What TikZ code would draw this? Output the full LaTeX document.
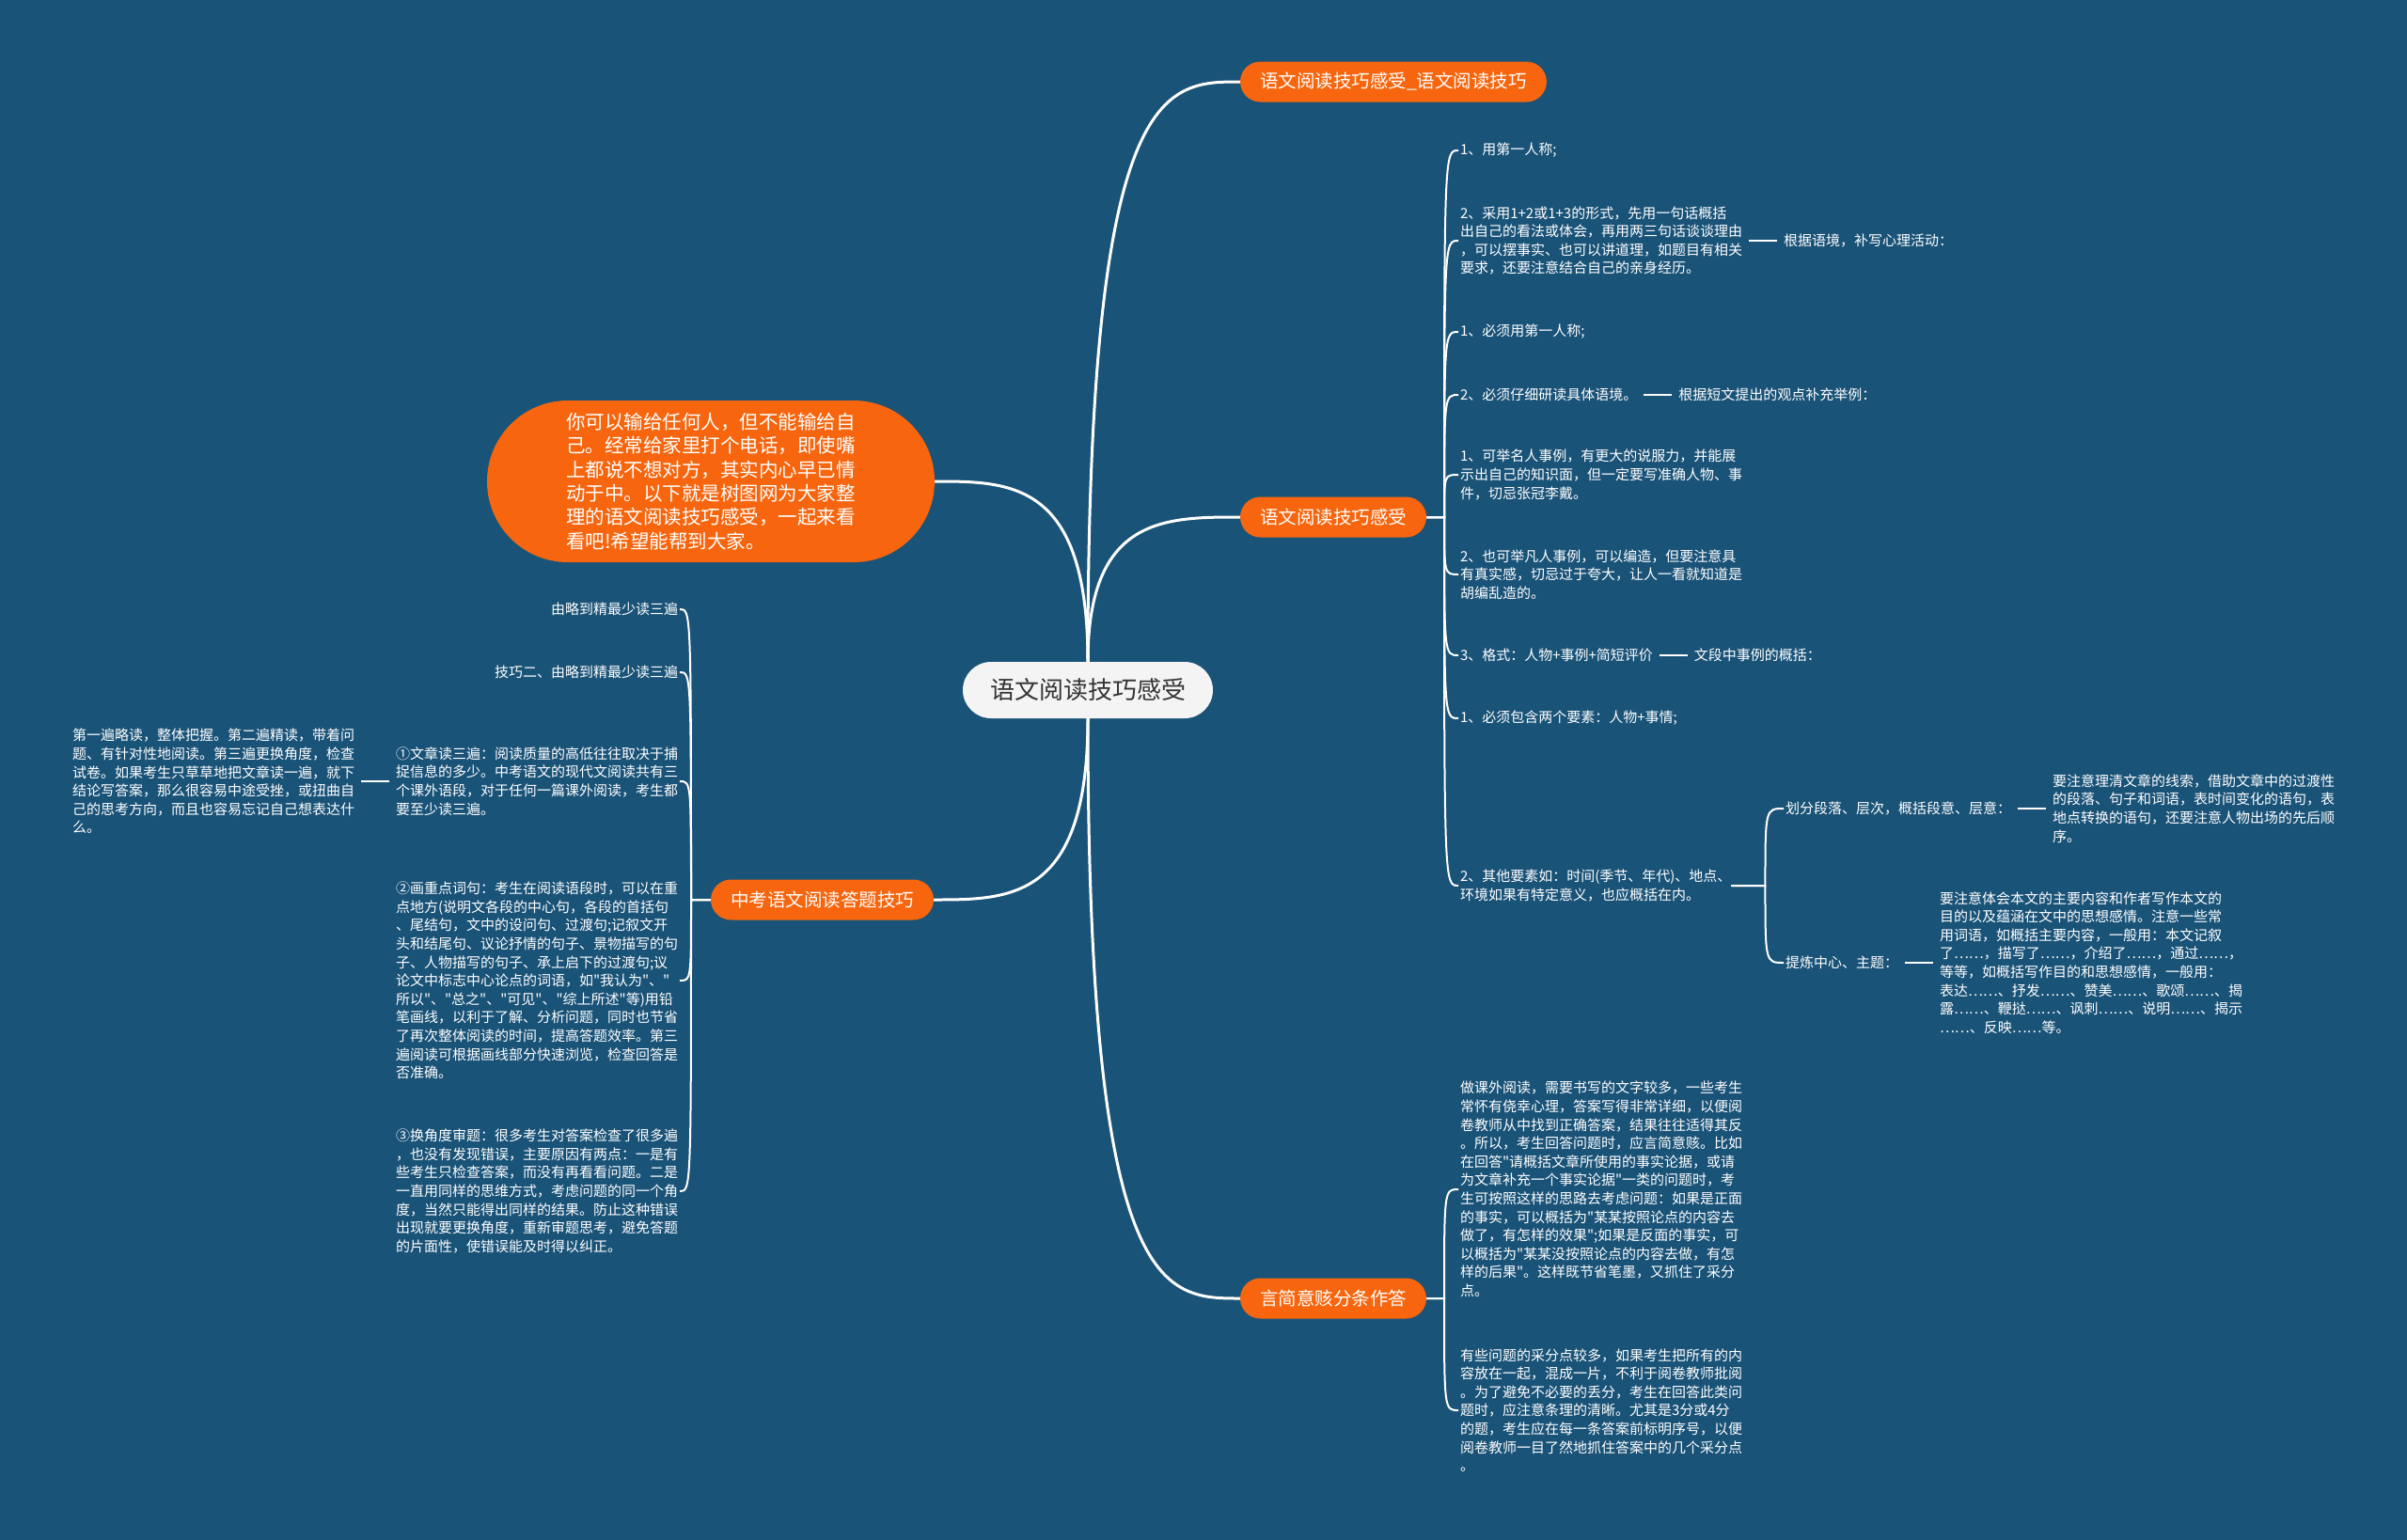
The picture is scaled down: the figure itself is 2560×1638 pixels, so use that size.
\documentclass[tikz,border=0pt]{standalone}
\usepackage{fontspec}
\setmainfont{Noto Sans CJK SC}
\newfontfamily\cjkfont{Noto Sans CJK SC}
\usetikzlibrary{calc}
\definecolor{bgblue}{RGB}{26,83,120}
\definecolor{orng}{RGB}{247,102,14}
\definecolor{ctrfill}{RGB}{244,244,244}
\definecolor{ctrtext}{RGB}{51,51,51}
\pgfdeclarelayer{edges}
\pgfsetlayers{edges,main}
\begin{document}
\begin{tikzpicture}[x=1pt,y=-1pt,
  every node/.style={inner sep=0pt, outer sep=0pt},
  topic/.style={fill=orng, text=white, rounded corners=21.5pt, minimum height=43pt, inner xsep=21pt, font=\cjkfont\fontsize{19.5}{24}\selectfont},
  centre/.style={fill=ctrfill, text=ctrtext, rounded corners=30pt, minimum height=60pt, minimum width=266pt, font=\cjkfont\fontsize{26}{30}\selectfont},
  intro/.style={fill=orng, text=white, rounded corners=86pt, minimum height=172pt, minimum width=476pt, align=left, font=\cjkfont\fontsize{20.5}{25.4}\selectfont},
  txt/.style={text=white, align=left, inner sep=2pt, font=\cjkfont\fontsize{15}{19.6}\selectfont},
  mainline/.style={draw=white, line width=3pt},
  subline/.style={draw=white, line width=2pt},
  linkline/.style={draw=white, line width=2pt, shorten >=5pt, shorten <=5pt},
]
\begin{pgfonlayer}{edges}
\fill[bgblue] (0,0) rectangle (2560,1638);
\end{pgfonlayer}
\useasboundingbox (0,0) rectangle (2560,1638);

% main nodes
\node[centre] (C) at (1157,734) {语文阅读技巧感受};
\node[topic, anchor=west, minimum width=325pt] (T) at (1319,87) {语文阅读技巧感受\_语文阅读技巧};
\node[topic, anchor=west] (R) at (1319,550) {语文阅读技巧感受};
\node[topic, anchor=west] (Y) at (1319,1381) {言简意赅分条作答};
\node[topic, anchor=east] (Z) at (993,957) {中考语文阅读答题技巧};
\node[intro] (I) at (756,512) {你可以输给任何人，但不能输给自\\己。经常给家里打个电话，即使嘴\\上都说不想对方，其实内心早已情\\动于中。以下就是树图网为大家整\\理的语文阅读技巧感受，一起来看\\看吧!希望能帮到大家。};

% right children of R
\node[txt, anchor=west] (r1) at (1551,160) {1、用第一人称;};
\node[txt, anchor=west] (r2) at (1551,256) {2、采用1+2或1+3的形式，先用一句话概括\\出自己的看法或体会，再用两三句话谈谈理由\\，可以摆事实、也可以讲道理，如题目有相关\\要求，还要注意结合自己的亲身经历。};
\node[txt, anchor=west] (r2b) at ([xshift=40pt]r2.east) {根据语境，补写心理活动：};
\node[txt, anchor=west] (r3) at (1551,353) {1、必须用第一人称;};
\node[txt, anchor=west] (r4) at (1551,420) {2、必须仔细研读具体语境。};
\node[txt, anchor=west] (r4b) at ([xshift=40pt]r4.east) {根据短文提出的观点补充举例：};
\node[txt, anchor=west] (r5) at (1551,505) {1、可举名人事例，有更大的说服力，并能展\\示出自己的知识面，但一定要写准确人物、事\\件，切忌张冠李戴。};
\node[txt, anchor=west] (r6) at (1551,611) {2、也可举凡人事例，可以编造，但要注意具\\有真实感，切忌过于夸大，让人一看就知道是\\胡编乱造的。};
\node[txt, anchor=west] (r7) at (1551,697) {3、格式：人物+事例+简短评价};
\node[txt, anchor=west] (r7b) at ([xshift=40pt]r7.east) {文段中事例的概括：};
\node[txt, anchor=west] (r8) at (1551,764) {1、必须包含两个要素：人物+事情;};
\node[txt, anchor=west] (r9) at (1551,942) {2、其他要素如：时间(季节、年代)、地点、\\环境如果有特定意义，也应概括在内。};
\node[txt, anchor=west] (s1) at (1897,860) {划分段落、层次，概括段意、层意：};
\node[txt, anchor=west] (s1b) at ([xshift=40pt]s1.east) {要注意理清文章的线索，借助文章中的过渡性\\的段落、句子和词语，表时间变化的语句，表\\地点转换的语句，还要注意人物出场的先后顺\\序。};
\node[txt, anchor=west] (s2) at (1897,1024) {提炼中心、主题：};
\node[txt, anchor=west] (s2b) at ([xshift=40pt]s2.east) {要注意体会本文的主要内容和作者写作本文的\\目的以及蕴涵在文中的思想感情。注意一些常\\用词语，如概括主要内容，一般用：本文记叙\\了……，描写了……，介绍了……，通过……，\\等等，如概括写作目的和思想感情，一般用：\\表达……、抒发……、赞美……、歌颂……、揭\\露……、鞭挞……、讽刺……、说明……、揭示\\……、反映……等。};

% right children of Y
\node[txt, anchor=west] (b1) at (1551,1265) {做课外阅读，需要书写的文字较多，一些考生\\常怀有侥幸心理，答案写得非常详细，以便阅\\卷教师从中找到正确答案，结果往往适得其反\\。所以，考生回答问题时，应言简意赅。比如\\在回答"请概括文章所使用的事实论据，或请\\为文章补充一个事实论据"一类的问题时，考\\生可按照这样的思路去考虑问题：如果是正面\\的事实，可以概括为"某某按照论点的内容去\\做了，有怎样的效果";如果是反面的事实，可\\以概括为"某某没按照论点的内容去做，有怎\\样的后果"。这样既节省笔墨，又抓住了采分\\点。};
\node[txt, anchor=west] (b2) at (1551,1500) {有些问题的采分点较多，如果考生把所有的内\\容放在一起，混成一片，不利于阅卷教师批阅\\。为了避免不必要的丢分，考生在回答此类问\\题时，应注意条理的清晰。尤其是3分或4分\\的题，考生应在每一条答案前标明序号，以便\\阅卷教师一目了然地抓住答案中的几个采分点\\。};

% left children of Z
\node[txt, anchor=east] (l1) at (723,648) {由略到精最少读三遍};
\node[txt, anchor=east] (l2) at (723,715) {技巧二、由略到精最少读三遍};
\node[txt, anchor=east] (l3) at (723,831) {①文章读三遍：阅读质量的高低往往取决于捕\\捉信息的多少。中考语文的现代文阅读共有三\\个课外语段，对于任何一篇课外阅读，考生都\\要至少读三遍。};
\node[txt, anchor=east] (l3b) at ([xshift=-40pt]l3.west) {第一遍略读，整体把握。第二遍精读，带着问\\题、有针对性地阅读。第三遍更换角度，检查\\试卷。如果考生只草草地把文章读一遍，就下\\结论写答案，那么很容易中途受挫，或扭曲自\\己的思考方向，而且也容易忘记自己想表达什\\么。};
\node[txt, anchor=east] (l4) at (723,1043) {②画重点词句：考生在阅读语段时，可以在重\\点地方(说明文各段的中心句，各段的首括句\\、尾结句，文中的设问句、过渡句;记叙文开\\头和结尾句、议论抒情的句子、景物描写的句\\子、人物描写的句子、承上启下的过渡句;议\\论文中标志中心论点的词语，如"我认为"、"\\所以"、"总之"、"可见"、"综上所述"等)用铅\\笔画线，以利于了解、分析问题，同时也节省\\了再次整体阅读的时间，提高答题效率。第三\\遍阅读可根据画线部分快速浏览，检查回答是\\否准确。};
\node[txt, anchor=east] (l5) at (723,1267) {③换角度审题：很多考生对答案检查了很多遍\\，也没有发现错误，主要原因有两点：一是有\\些考生只检查答案，而没有再看看问题。二是\\一直用同样的思维方式，考虑问题的同一个角\\度，当然只能得出同样的结果。防止这种错误\\出现就要更换角度，重新审题思考，避免答题\\的片面性，使错误能及时得以纠正。};

% trunk coordinates
\coordinate (rt) at ([xshift=19pt]R.east);
\coordinate (yt) at ([xshift=19pt]Y.east);
\coordinate (zt) at ([xshift=-21pt]Z.west);
\coordinate (st) at ([xshift=34pt]r9.east);

\begin{pgfonlayer}{edges}
% main branches
\draw[mainline] (C.north) .. controls (C.north |- T.west) and ($(C.north |- T.west)!0.5!(T.west)$) .. (T.west);
\draw[mainline] (C.north) .. controls (C.north |- R.west) and ($(C.north |- R.west)!0.5!(R.west)$) .. (R.west);
\draw[mainline] (C.north) .. controls (C.north |- I.east) and ($(C.north |- I.east)!0.5!(I.east)$) .. (I.east);
\draw[mainline] (C.south) .. controls (C.south |- Z.east) and ($(C.south |- Z.east)!0.5!(Z.east)$) .. (Z.east);
\draw[mainline] (C.south) .. controls (C.south |- Y.west) and ($(C.south |- Y.west)!0.5!(Y.west)$) .. (Y.west);
% sub branches
\foreach \c in {r1,r2,r3,r4,r5,r6,r7,r8,r9}
  \draw[subline] (R.east) -- (rt) .. controls (rt |- \c.west) .. (\c.west);
\foreach \c in {b1,b2}
  \draw[subline] (Y.east) -- (yt) .. controls (yt |- \c.west) .. (\c.west);
\foreach \c in {l1,l2,l3,l4,l5}
  \draw[subline] (Z.west) -- (zt) .. controls (zt |- \c.east) .. (\c.east);
\foreach \c in {s1,s2}
  \draw[subline] ([xshift=-2pt]r9.east) -- (st) .. controls (st |- \c.west) .. (\c.west);
% links
\draw[linkline] (r2.east) -- (r2b.west);
\draw[linkline] (r4.east) -- (r4b.west);
\draw[linkline] (r7.east) -- (r7b.west);
\draw[linkline] (s1.east) -- (s1b.west);
\draw[linkline] (s2.east) -- (s2b.west);
\draw[linkline] (l3.west) -- (l3b.east);
\end{pgfonlayer}
\end{tikzpicture}
\end{document}
